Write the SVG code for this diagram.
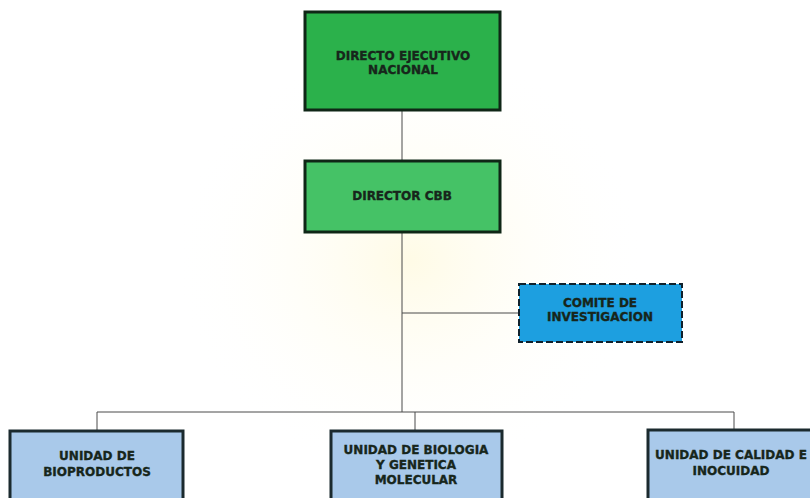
<svg xmlns="http://www.w3.org/2000/svg" width="810" height="498" viewBox="0 0 810 498">
  <defs>
    <radialGradient id="tint" cx="0.5" cy="0.5" r="0.5">
      <stop offset="0" stop-color="#fffbe6"/>
      <stop offset="1" stop-color="#ffffff" stop-opacity="0"/>
    </radialGradient>
    <style>
      .lbl { font-family: "DejaVu Sans", "Liberation Sans", Arial, sans-serif; font-weight: bold; font-size: 12px; fill: #17261b; stroke: #17261b; stroke-width: 0.35; text-anchor: middle; letter-spacing: 0px; }
      .box { stroke-width: 3; }
      .exec { fill: #2bb14b; stroke: #0f2616; }
      .dir { fill: #45c266; stroke: #0f2616; }
      .comm { fill: #1d9fe0; stroke: #10212c; stroke-width: 2; stroke-dasharray: 7 3; }
      .unit { fill: #a9c9ea; stroke: #1b2a2e; }
      .wire { stroke: #4a4a4a; stroke-width: 1; fill: none; }
    </style>
  </defs>

  <rect width="810" height="498" fill="#ffffff"/>
  <ellipse cx="410" cy="260" rx="240" ry="220" fill="url(#tint)"/>

  <!-- connectors -->
  <g id="connectors">
    <line class="wire" x1="402" y1="110" x2="402" y2="160"/>
    <line class="wire" x1="402" y1="232" x2="402" y2="412"/>
    <line class="wire" x1="402" y1="313" x2="519" y2="313"/>
    <line class="wire" x1="97" y1="412" x2="734" y2="412"/>
    <line class="wire" x1="97" y1="412" x2="97" y2="430"/>
    <line class="wire" x1="415" y1="412" x2="415" y2="430"/>
    <line class="wire" x1="734" y1="412" x2="734" y2="430"/>
  </g>

  <g id="director-ejecutivo">
    <rect class="box exec" x="305" y="12" width="195" height="98"/>
    <text class="lbl" x="403" y="60">DIRECTO EJECUTIVO</text>
    <text class="lbl" x="403" y="74">NACIONAL</text>
  </g>

  <g id="director-cbb">
    <rect class="box dir" x="305" y="161" width="195" height="71"/>
    <text class="lbl" x="402" y="200">DIRECTOR CBB</text>
  </g>

  <g id="comite">
    <rect class="comm" x="519" y="284" width="163" height="58"/>
    <text class="lbl" x="600" y="307">COMITE DE</text>
    <text class="lbl" x="600" y="321">INVESTIGACION</text>
  </g>

  <g id="unidad-bioproductos">
    <rect class="box unit" x="10" y="431" width="173" height="80"/>
    <text class="lbl" x="97" y="460">UNIDAD DE</text>
    <text class="lbl" x="97" y="476">BIOPRODUCTOS</text>
  </g>

  <g id="unidad-biologia">
    <rect class="box unit" x="331" y="431" width="171" height="80"/>
    <text class="lbl" x="416" y="454">UNIDAD DE BIOLOGIA</text>
    <text class="lbl" x="416" y="469">Y GENETICA</text>
    <text class="lbl" x="416" y="484">MOLECULAR</text>
  </g>

  <g id="unidad-calidad">
    <rect class="box unit" x="648" y="430" width="170" height="80"/>
    <text class="lbl" x="731" y="459">UNIDAD DE CALIDAD E</text>
    <text class="lbl" x="731" y="475">INOCUIDAD</text>
  </g>
</svg>
